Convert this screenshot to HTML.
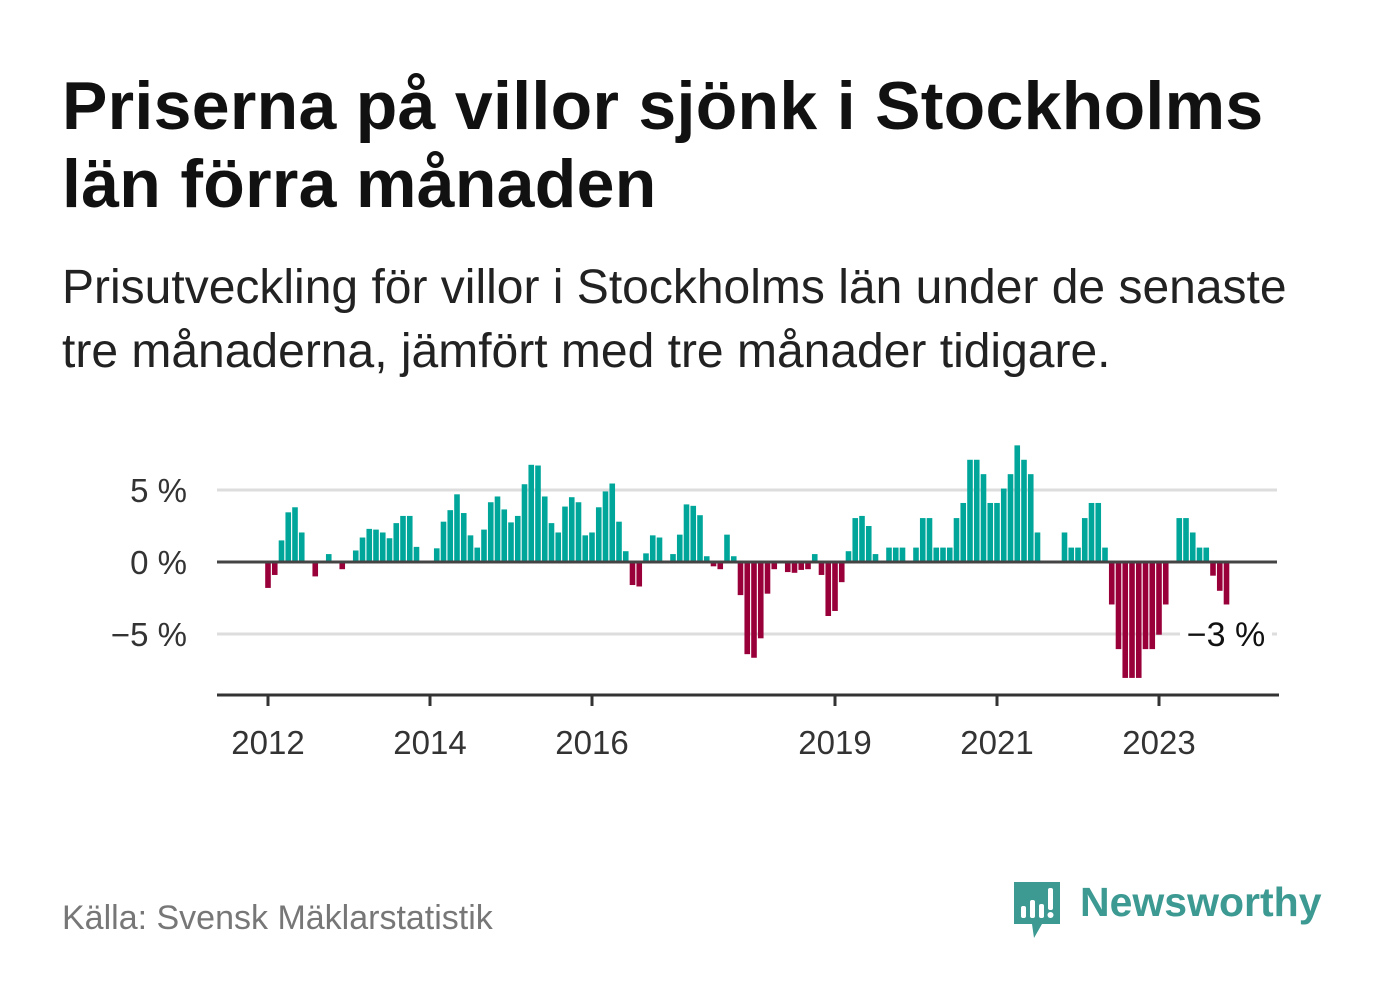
<!DOCTYPE html>
<html><head><meta charset="utf-8">
<style>
body{margin:0;background:#fff;width:1382px;height:999px;overflow:hidden;font-family:"Liberation Sans",sans-serif;}
#title{position:absolute;left:62px;top:67px;font-size:68px;font-weight:bold;line-height:78px;color:#111;margin:0;letter-spacing:0.3px}
#subtitle{position:absolute;left:62px;top:256px;font-size:48px;line-height:64px;color:#222;margin:0;}
#source{position:absolute;left:62px;top:899px;font-size:34px;color:#777;}
#chart{position:absolute;left:0;top:0}
#logo{position:absolute;left:1012px;top:880px;}
#logotext{position:absolute;left:1080px;top:879px;font-size:41px;font-weight:bold;color:#3c9a93;}
</style></head><body>
<h1 id="title">Priserna på villor sjönk i Stockholms<br>län förra månaden</h1>
<p id="subtitle">Prisutveckling för villor i Stockholms län under de senaste<br>tre månaderna, jämfört med tre månader tidigare.</p>
<svg id="chart" width="1382" height="999"></svg>
<div id="source">Källa: Svensk Mäklarstatistik</div>
<svg id="logo" width="50" height="60">
<path d="M2 2 H48 V44 H30 L22 58 L20 44 H2 Z" fill="#3c9a93"/>
<rect x="9" y="26" width="5" height="12" rx="2" fill="#fff"/>
<rect x="18" y="20" width="5" height="18" rx="2" fill="#fff"/>
<rect x="27" y="24" width="5" height="14" rx="2" fill="#fff"/>
<rect x="36" y="8" width="5" height="22" rx="2" fill="#fff"/>
<circle cx="38.5" cy="35" r="3" fill="#fff"/>
</svg>
<div id="logotext">Newsworthy</div>
<script>
const startYear = 2012;
const values = [-1.8,-0.9,1.5,3.45,3.8,2.05,0,-1.0,0,0.55,0,-0.5,
0,0.8,1.7,2.3,2.25,2.05,1.65,2.7,3.2,3.2,1.05,0,
0,0.95,2.8,3.6,4.7,3.4,1.85,1.0,2.25,4.15,4.55,3.65,
2.75,3.2,5.4,6.75,6.7,4.55,2.7,2.05,3.85,4.5,4.15,1.85,
2.05,3.8,4.9,5.45,2.8,0.75,-1.6,-1.7,0.6,1.85,1.7,0,
0.55,1.9,4.0,3.9,3.25,0.4,-0.3,-0.5,1.9,0.4,-2.3,-6.4,
-6.65,-5.3,-2.2,-0.5,0,-0.7,-0.75,-0.55,-0.5,0.55,-0.9,-3.75,
-3.4,-1.4,0.75,3.05,3.2,2.5,0.55,0,1.0,1.0,1.0,0,
1.0,3.05,3.05,1.0,1.0,1.0,3.05,4.1,7.1,7.1,6.1,4.1,
4.1,5.1,6.1,8.1,7.1,6.1,2.05,0,0,0,2.05,1.0,
1.0,3.05,4.1,4.1,1.0,-2.95,-6.05,-8.05,-8.05,-8.05,-6.05,-6.05,
-5.05,-2.95,0,3.05,3.05,2.05,1.0,1.0,-0.95,-2.0,-2.95];
const yTicks = [5,0,-5];
const yTickLabels = ["5 %","0 %","\u22125 %"];
const xTickYears = [2012,2014,2016,2019,2021,2023];
const lastLabel = "\u22123 %";

const NS="http://www.w3.org/2000/svg";
const svg=document.getElementById('chart');
const x0=268, monthW=6.75, barW=5.6;
const X=i=>x0+i*monthW;
const XY=y=>x0+(y-startYear)*12*monthW;
const Y=v=>562-v*14.4;
const L=217,R=1277,bottomY=695;
function el(t,a){const e=document.createElementNS(NS,t);for(const k in a)e.setAttribute(k,a[k]);svg.appendChild(e);return e;}
yTicks.forEach((t,j)=>{
  if(t!==0){const g=el('line',{x1:L,x2:R,y1:Y(t),y2:Y(t),stroke:'#dddddd','stroke-width':3});
  
  }
  const tx=el('text',{x:187,y:Y(t)+12,'text-anchor':'end','font-size':33,fill:'#333','font-family':'Liberation Sans, sans-serif'});
  tx.textContent=yTickLabels[j];
  
  
});
values.forEach((v,i)=>{
  if(v===0)return;
  const r=el('rect',{x:X(i)-barW/2,width:barW,y:v>0?Y(v):Y(0),height:Math.abs(Y(v)-Y(0)),fill:v>0?'#00a69a':'#99003a'});
  
  
});
const z=el('line',{x1:L,x2:R,y1:Y(0),y2:Y(0),stroke:'#444','stroke-width':3});


const ax=el('line',{x1:L,x2:1279,y1:bottomY,y2:bottomY,stroke:'#333','stroke-width':3});


xTickYears.forEach(yr=>{
  const tk=el('line',{x1:XY(yr),x2:XY(yr),y1:bottomY,y2:bottomY+11,stroke:'#333','stroke-width':3});
  
  
  const t=el('text',{x:XY(yr),y:754,'text-anchor':'middle','font-size':33,fill:'#333','font-family':'Liberation Sans, sans-serif'});
  t.textContent=yr;
  
  
});
const bg=el('rect',{x:1180,y:Y(-5)-20,width:92,height:40,fill:'#fff'});


const an=el('text',{x:1226,y:Y(-5)+12,'text-anchor':'middle','font-size':34,fill:'#111','font-family':'Liberation Sans, sans-serif'});
an.textContent=lastLabel;


</script>
</body></html>
